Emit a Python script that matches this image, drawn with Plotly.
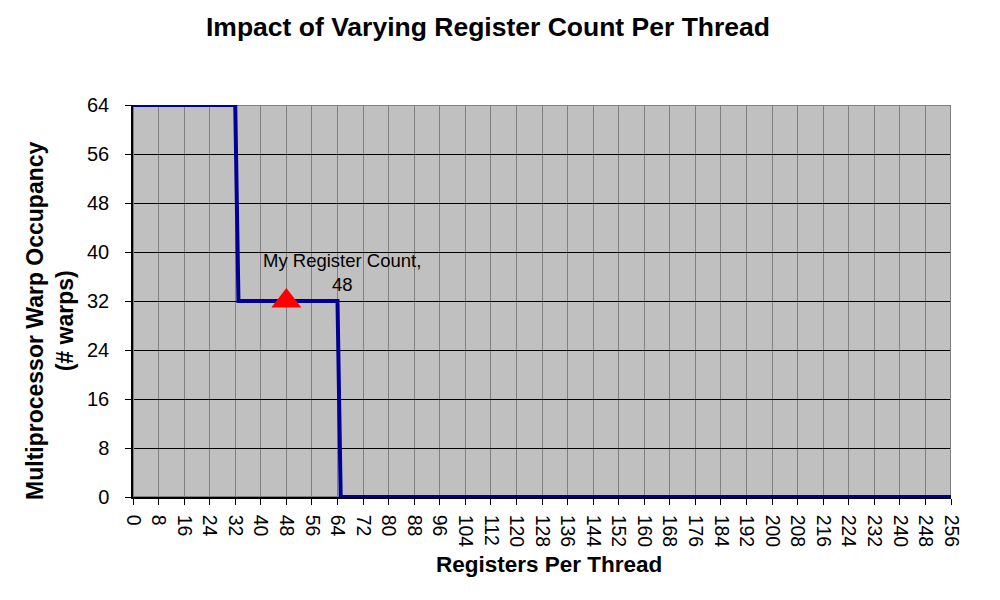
import plotly.graph_objects as go

# Data
reg_x = [0, 32, 33, 64, 65, 256]
warps = [64, 64, 32, 32, 0, 0]
my_reg = [48]
my_warps = [32]
x_ticks = list(range(0, 257, 8))
y_ticks = list(range(0, 65, 8))

font = "Liberation Sans, Arial, sans-serif"

fig = go.Figure()
fig.add_trace(go.Scatter(x=reg_x, y=warps, mode="lines",
                         line=dict(color="#000092", width=4),
                         showlegend=False, hoverinfo="skip"))
fig.add_trace(go.Scatter(x=my_reg, y=my_warps, mode="markers",
                         marker=dict(symbol="triangle-up", size=26, color="#FF0000",
                                     line=dict(width=0)),
                         showlegend=False))

fig.add_annotation(x=my_reg[0], y=my_warps[0], xref="x", yref="y",
                   text="My Register Count,<br>48", showarrow=False,
                   align="center", xanchor="center", yanchor="bottom",
                   xshift=56, yshift=4,
                   font=dict(family=font, size=18.5, color="black"))

# Axis titles as annotations for precise placement
fig.add_annotation(x=0.5086, y=-0.171, xref="paper", yref="paper",
                   text="<b>Registers Per Thread</b>", showarrow=False,
                   xanchor="center", yanchor="middle",
                   font=dict(family=font, size=22.5, color="black"))
fig.add_annotation(x=-0.1015, y=0.449, xref="paper", yref="paper",
                   text="<b>Multiprocessor Warp Occupancy<br>(# warps)</b>", showarrow=False,
                   textangle=-90, xanchor="center", yanchor="middle", align="center",
                   font=dict(family=font, size=23, color="black"))

fig.add_shape(type="rect", xref="x", yref="y", x0=0, x1=256, y0=0, y1=64,
              line=dict(color="#808080", width=2), layer="between")

fig.update_layout(
    width=1000, height=600,
    margin=dict(l=133, r=49, t=105, b=103),
    paper_bgcolor="white", plot_bgcolor="#C0C0C0",
    title=dict(text="<b>Impact of Varying Register Count Per Thread</b>",
               x=0.488, xanchor="center", y=0.955, yanchor="middle",
               font=dict(family=font, size=26.5, color="black")),
    font=dict(family=font, color="black"),
)
fig.update_xaxes(range=[0, 256], tickvals=x_ticks, ticktext=[str(v) for v in x_ticks],
                 tickangle=90, tickfont=dict(family=font, size=19.5, color="black"),
                 ticklabelstandoff=6,
                 showgrid=True, gridcolor="#808080", gridwidth=1,
                 zeroline=False, showline=True, linecolor="black", linewidth=1.5,
                 ticks="outside", ticklen=6, tickcolor="black")
fig.update_yaxes(range=[0, 64], tickvals=y_ticks,
                 tickfont=dict(family=font, size=20, color="black"),
                 ticklabelstandoff=12,
                 showgrid=True, gridcolor="black", gridwidth=1,
                 zeroline=False, showline=True, linecolor="black", linewidth=1.5,
                 ticks="outside", ticklen=6, tickcolor="black")

fig.write_html("out.html")
